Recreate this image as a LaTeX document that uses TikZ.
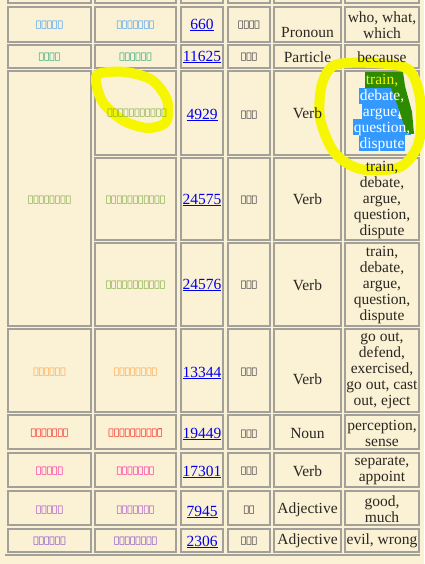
\documentclass[tikz,border=0pt]{standalone}
\usepackage{fontspec}
\setmainfont{Liberation Serif}
\IfFontExistsTF{NotoSansSyriac-Regular.ttf}
  {\newfontfamily\syr[Script=Syriac,Scale=1.9]{NotoSansSyriac-Regular.ttf}}
  {\newfontfamily\syr{DejaVu Sans}}
\TeXXeTstate=1
\newcommand{\sy}[1]{{\syr\beginR #1\endR}}
\definecolor{cream}{HTML}{FBF1D4}
\definecolor{gridgray}{HTML}{A3A09A}
\definecolor{ink}{HTML}{2A2722}
\definecolor{rootink}{HTML}{14142A}
\definecolor{linkblue}{HTML}{0000EE}
\definecolor{hlyellow}{HTML}{F6F600}
\definecolor{selblue}{HTML}{3399FF}
\definecolor{selgreen}{HTML}{2E8B00}
\definecolor{cBlue}{HTML}{1E90FF}
\definecolor{cTeal}{HTML}{00996B}
\definecolor{cOlive}{HTML}{6B9E2A}
\definecolor{cOrange}{HTML}{FF9933}
\definecolor{cRed}{HTML}{F20000}
\definecolor{cPink}{HTML}{FF0099}
\definecolor{cOrchid}{HTML}{9933CC}
\definecolor{cViolet}{HTML}{6E30C8}

\begin{document}
\begin{tikzpicture}[x=1pt,y=-1pt,
  cell/.style={draw=gridgray,line width=1.3pt,fill=cream},
  word/.style={inner sep=0pt,font=\syr\fontsize{9}{11}\selectfont},
  root/.style={inner sep=0pt,text=rootink,font=\syr\fontsize{9}{11}\selectfont},
  num/.style={inner sep=0pt,text=linkblue,font=\fontsize{15.5}{16}\selectfont},
  txt/.style={inner sep=0pt,text=ink,font=\fontsize{15.5}{16}\selectfont},
  mean/.style={txt,align=center},
  marker/.style={draw=hlyellow,line width=10pt,line join=round,line cap=round}]

  % page and table cells
  \fill[cream] (0,0) rectangle (424,564);
  \useasboundingbox (0,0) rectangle (424,564);
  \foreach \ya/\yb in {-10/3,7/42,45/68,71/155,158/240,243/326,329/412,415/449,453/487,491/525,529/552}
    \foreach \xa/\xb in {95/176,181/223,228/270,274/341,345/419}
      \draw[cell] (\xa,\ya) rectangle (\xb,\yb);
  \foreach \ya/\yb in {-10/3,7/42,45/68,71/326,329/412,415/449,453/487,491/525,529/552}
    \draw[cell] (8,\ya) rectangle (91,\yb);
  \draw[gridgray,line width=1.3pt] (5,555) -- (420,555);

  % selection in the first Verb row
  \fill[selblue] (359,88) rectangle (400,104);
  \fill[selblue] (362,104) rectangle (399,119);
  \fill[selblue] (353,119) rectangle (411,135);
  \fill[selblue] (359,135) rectangle (405,151);
  \fill[selgreen] (365,72) -- (403,72) -- (405,86) -- (412,112) -- (414,134)
    -- (407,134) -- (397,104) -- (391,88) -- (365,88) -- cycle;

  % highlighter marks
  \draw[marker] plot[smooth cycle] coordinates {(98,74) (125,72) (152,80) (167,100)
    (166,122) (148,128) (124,121) (104,104) (97,87)};
  \draw[marker] plot[smooth cycle] coordinates {(335,65) (372,63) (408,69) (420,98)
    (419,142) (400,167) (360,169) (334,152) (320,118) (322,84)};

  % row 1
  \node[word,text=cBlue] (w1) at (49.5,25) {\sy{ܐܝܠܝܢ}};
  \node[word,text=cBlue] (v1) at (135.5,25) {\sy{ܐܰܝܠܶܝܢ}};
  \node[num] (n1) at (202,25) {\underline{660}};
  \node[root] (r1) at (249,25) {\sy{ܐܝܢܐ}};
  \node[txt] (p1) at (307.5,33) {Pronoun};
  \node[mean] (m1) at (382,25) {who, what,\\which};

  % row 2
  \node[word,text=cTeal] (w2) at (49.5,57) {\sy{ܕܡܛܠ}};
  \node[word,text=cTeal] (v2) at (135.5,57) {\sy{ܕܡܶܛܽܠ}};
  \node[num] (n2) at (202,57) {\underline{11625}};
  \node[root] (r2) at (249,57) {\sy{ܡܛܠ}};
  \node[txt] (p2) at (307.5,57) {Particle};
  \node[txt] (m2) at (382,57) {because};

  % rows 3 to 5 (one word, three entries)
  \node[word,text=cOlive] (w3) at (49.5,200) {\sy{ܕܡܬܕܪܫܝܢ}};
  \node[word,text=cOlive] (v3) at (137,113) {\sy{ܕܡܶܬܕܰܪܫܺܝܢ}};
  \node[num] (n3) at (202,115) {\underline{4929}};
  \node[root] (r3) at (249,115) {\sy{ܕܪܫ}};
  \node[txt] (p3) at (307.5,113) {Verb};
  \node[mean,text=white] (m3) at (382,113) {\textcolor{hlyellow}{train,}\\debate,\\argue,\\question,\\dispute};

  \node[word,text=cOlive] (v4) at (135.5,200) {\sy{ܕܡܶܬܕܰܪܫܺܝܢ}};
  \node[num] (n4) at (202,200) {\underline{24575}};
  \node[root] (r4) at (249,200) {\sy{ܕܪܫ}};
  \node[txt] (p4) at (307.5,199) {Verb};
  \node[mean] (m4) at (382,200) {train,\\debate,\\argue,\\question,\\dispute};

  \node[word,text=cOlive] (v5) at (135.5,285) {\sy{ܕܡܶܬܕܰܪܫܺܝܢ}};
  \node[num] (n5) at (202,285) {\underline{24576}};
  \node[root] (r5) at (249,285) {\sy{ܕܪܫ}};
  \node[txt] (p5) at (307.5,285) {Verb};
  \node[mean] (m5) at (382,285) {train,\\debate,\\argue,\\question,\\dispute};

  % row 6
  \node[word,text=cOrange] (w6) at (49.5,372) {\sy{ܐܬܢܦܩܘ}};
  \node[word,text=cOrange] (v6) at (135.5,372) {\sy{ܐܶܬܢܰܦܩܘ}};
  \node[num] (n6) at (202,373) {\underline{13344}};
  \node[root] (r6) at (249,372) {\sy{ܢܦܩ}};
  \node[txt] (p6) at (307.5,379) {Verb};
  \node[mean] (m6) at (382,371) {go out,\\defend,\\exercised,\\go out, cast\\out, eject};

  % row 7
  \node[word,text=cRed] (w7) at (49.5,433) {\sy{ܪܓܫܝܗܘܢ}};
  \node[word,text=cRed] (v7) at (135.5,433) {\sy{ܪܶ̈ܓܫܰܝܗܽܘܢ}};
  \node[num] (n7) at (202,434) {\underline{19449}};
  \node[root] (r7) at (249,434) {\sy{ܪܓܫ}};
  \node[txt] (p7) at (307.5,433) {Noun};
  \node[mean] (m7) at (382,433.5) {perception,\\sense};

  % row 8
  \node[word,text=cPink] (w8) at (49.5,471) {\sy{ܠܡܦܪܫ}};
  \node[word,text=cPink] (v8) at (135.5,471) {\sy{ܠܡܦܰܪܳܫ}};
  \node[num] (n8) at (202,472) {\underline{17301}};
  \node[root] (r8) at (249,471) {\sy{ܦܪܫ}};
  \node[txt] (p8) at (307.5,471) {Verb};
  \node[mean] (m8) at (382,471) {separate,\\appoint};

  % row 9
  \node[word,text=cOrchid] (w9) at (49.5,510) {\sy{ܠܛܒܬܐ}};
  \node[word,text=cOrchid] (v9) at (135.5,510) {\sy{ܠܛܳܒܬܳܐ}};
  \node[num] (n9) at (202,512) {\underline{7945}};
  \node[root] (r9) at (249,510) {\sy{ܛܒ}};
  \node[txt] (p9) at (307.5,510) {Adjective};
  \node[mean] (m9) at (382,509.5) {good,\\much};

  % row 10
  \node[word,text=cViolet] (w10) at (49.5,541) {\sy{ܘܒܝܫܬܐ}};
  \node[word,text=cViolet] (v10) at (135.5,541) {\sy{ܘܒܺܝܫܬܳܐ}};
  \node[num] (n10) at (202,542) {\underline{2306}};
  \node[root] (r10) at (249,541) {\sy{ܒܝܫ}};
  \node[txt] (p10) at (307.5,541) {Adjective};
  \node[txt] (m10) at (382,541) {evil, wrong};
\end{tikzpicture}
\end{document}
